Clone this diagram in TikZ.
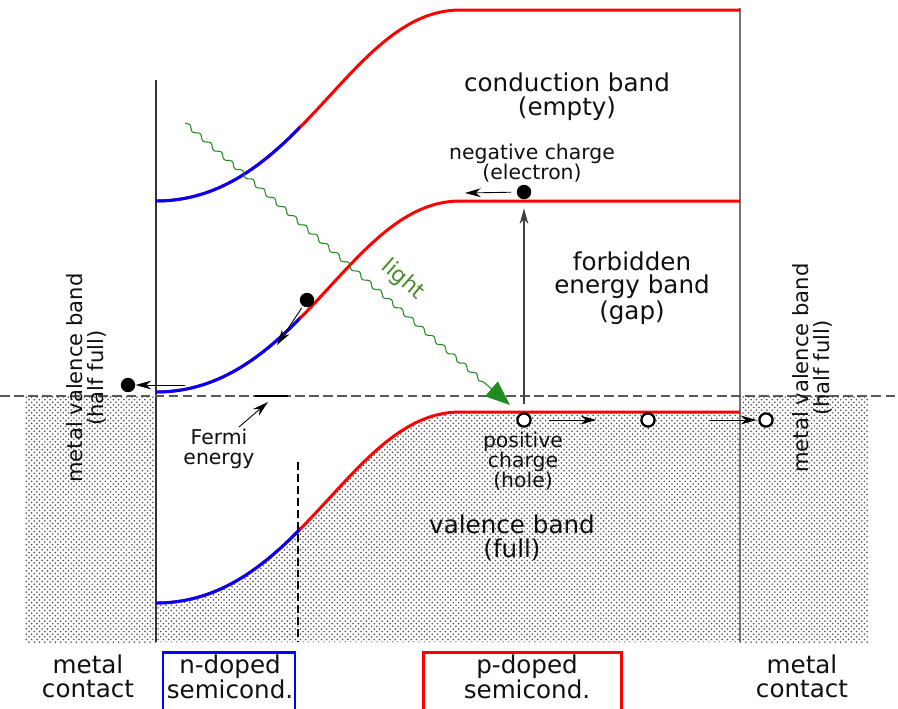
\documentclass[tikz,border=0pt]{standalone}
\usepackage{fontspec}
\setmainfont{DejaVu Sans}
\usetikzlibrary{arrows.meta,decorations.pathmorphing,patterns}
\definecolor{nblue}{HTML}{0000FF}
\definecolor{pred}{HTML}{FF0000}
\definecolor{photon}{HTML}{1E8C1E}
\definecolor{photontext}{HTML}{4A8C2A}
\definecolor{ink}{HTML}{101010}

\begin{document}
\begin{tikzpicture}[x=0.02cm,y=-0.02cm,>=Stealth,text=ink,
  every node/.style={font=\fontsize{14}{13.5}\selectfont,align=center,inner sep=1pt},
  small/.style={font=\fontsize{11.6}{11.5}\selectfont},
  metal/.style={font=\fontsize{12}{12}\selectfont},
  band/.style={line width=1.7pt},
  stipple/.style={pattern=crosshatch dots,pattern color=black!70},
  edot/.style={circle,fill=black,inner sep=0pt,minimum size=8.2pt},
  hole/.style={circle,draw=black,line width=1.3pt,fill=white,inner sep=0pt,minimum size=7.5pt},
  arr/.style={-{Stealth[length=9pt,width=5pt]},line width=0.5pt},
  semibox/.style={line width=1.7pt}]
  \useasboundingbox (0,0) rectangle (898,708);
  % shaded (filled) states
  \fill[stipple] (25,396) rectangle (156,642);
  \fill[stipple] (740,396) rectangle (868,642);
  \fill[stipple] (156,603) .. controls (300,603) and (350,412) .. (460,412) -- (740,412) -- (740,642) -- (156,642) -- cycle;
  % contacts, junction and Fermi level
  \draw[black!80,line width=0.6pt] (156,80) -- (156,642);
  \draw[black!55,line width=0.6pt] (740,8) -- (740,642);
  \draw[black!65,line width=0.6pt,dash pattern=on 5.5pt off 2.5pt] (0,396) -- (898,396);
  \draw[line width=0.6pt,dash pattern=on 4.5pt off 2.3pt] (298,462) -- (298,642);
  \draw[line width=1.3pt] (255,396) -- (288,396);
  % band edges
  \draw[band,pred] (156,201) .. controls (300,201) and (350,10) .. (460,10) -- (740,10);
  \draw[band,pred] (156,392) .. controls (300,392) and (350,201) .. (460,201) -- (740,201);
  \draw[band,pred] (156,603) .. controls (300,603) and (350,412) .. (460,412) -- (740,412);
  \begin{scope}
    \clip (150,0) rectangle (300,708);
    \draw[band,nblue] (156,201) .. controls (300,201) and (350,10) .. (460,10);
    \draw[band,nblue] (156,392) .. controls (300,392) and (350,201) .. (460,201);
    \draw[band,nblue] (156,603) .. controls (300,603) and (350,412) .. (460,412);
  \end{scope}
  % light
  \coordinate (lightfrom) at (185,123);
  \coordinate (lightto) at (510,405);
  \draw[photon,line width=0.6pt,decorate,decoration={snake,amplitude=1.1pt,segment length=8pt,post length=16pt},-{Triangle[length=14pt,width=11pt]}] (lightfrom) -- (lightto);
  \node[text=photontext,rotate=-41,font=\fontsize{12.5}{12.5}\selectfont] (lightlbl) at (403,280) {light};
  % carriers
  \node[edot] (e1) at (524,192) {};
  \node[edot] (e2) at (307,300) {};
  \node[edot] (m1) at (128,385) {};
  \node[hole] (h1) at (524,420) {};
  \node[hole] (h2) at (648,420) {};
  \node[hole] (h3) at (766,420) {};
  \coordinate (e1to) at (465,193);
  \coordinate (e2to) at (277,345);
  \coordinate (m1from) at (185,385);
  \coordinate (fermilevel) at (268,402);
  \draw[arr,shorten <=3pt] (e1) -- (e1to);
  \draw[arr,black!75,line width=0.6pt,shorten <=4.5pt,shorten >=5pt] (h1) -- (e1);
  \draw[arr,shorten <=1pt] (e2) -- (e2to);
  \draw[arr] (m1from) -- (m1);
  \draw[arr,shorten <=10pt,shorten >=25pt] (h1) -- (h2);
  \draw[arr,shorten <=31pt,shorten >=1pt] (h2) -- (h3);
  % labels
  \node (cband) at (567,97) {conduction band\\(empty)};
  \node[small] (negq) at (532,163) {negative charge\\(electron)};
  \node (gap) at (632,288) {forbidden\\energy band\\(gap)};
  \node[small] (posq) at (523,461) {positive\\charge\\(hole)};
  \node (vband) at (512,538) {valence band\\(full)};
  \node[small] (fermi) at (219,449) {Fermi\\energy};
  \draw[arr] ([xshift=-10pt]fermi.north east) -- (fermilevel);
  \node[metal,rotate=90] (mleft) at (86,378) {metal valence band\\(half full)};
  \node[metal,rotate=90] (mright) at (812,368) {metal valence band\\(half full)};
  % regions
  \node (cleft) at (88,676) {metal\\contact};
  \node (cright) at (802,676) {metal\\contact};
  \draw[semibox,nblue] (163,652) rectangle (295,720);
  \node (nsemi) at (230,677) {n-doped\\semicond.};
  \draw[semibox,pred] (423,652) rectangle (621,720);
  \node (psemi) at (527,677) {p-doped\\semicond.};
\end{tikzpicture}
\end{document}
